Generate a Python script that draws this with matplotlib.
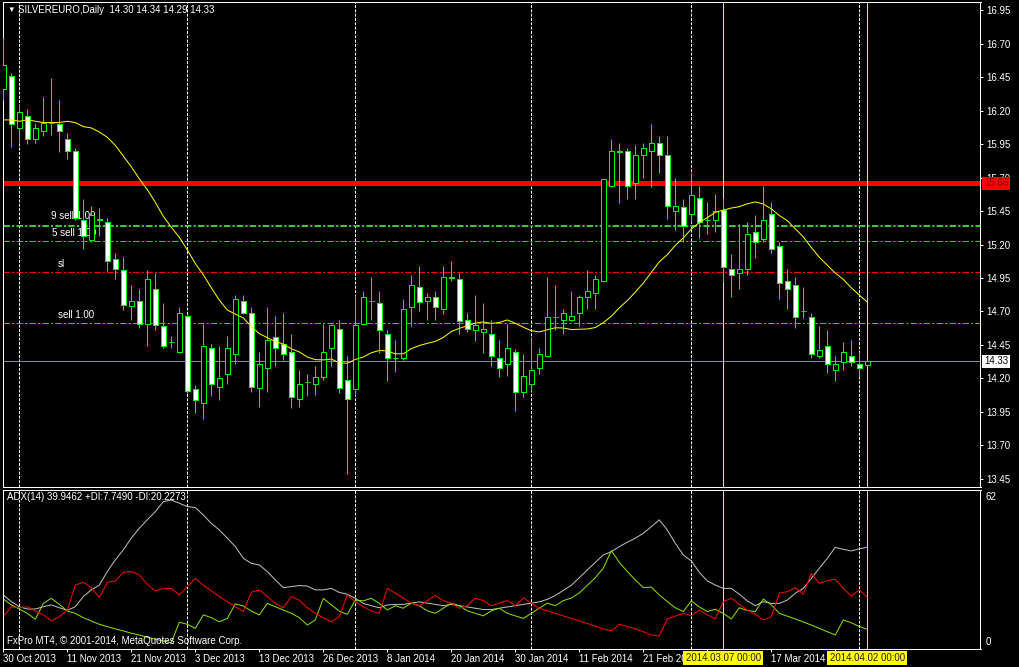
import numpy as np
import matplotlib.pyplot as plt

# ---- data (SILVEREURO daily) ----
opens = [16.36, 16.46, 16.07, 16.16, 15.99, 16.05, 16.11, 16.10, 15.99, 15.90,
         15.38, 15.23, 15.39, 15.37, 15.09, 15.01, 14.74, 14.78, 14.61, 14.87,
         14.59, 14.47, 14.40, 14.67, 14.12, 14.02, 14.43, 14.14, 14.23, 14.38,
         14.78, 14.69, 14.13, 14.28, 14.51, 14.46, 14.40, 14.05, 14.17, 14.16,
         14.21, 14.43, 14.57, 14.19, 14.12, 14.61, 14.78, 14.76, 14.53, 14.35,
         14.35, 14.73, 14.88, 14.78, 14.81, 14.72, 14.96, 14.94, 14.64, 14.56,
         14.55, 14.53, 14.35, 14.31, 14.40, 14.10, 14.16, 14.28, 14.37, 14.66,
         14.64, 14.64, 14.69, 14.81, 14.84, 14.93, 15.64, 15.89, 15.90, 15.66,
         15.87, 15.90, 15.96, 15.87, 15.45, 15.48, 15.43, 15.55, 15.38, 15.38,
         15.46, 15.02, 14.99, 15.02, 15.29, 15.24, 15.43, 15.19, 14.93, 14.90,
         14.70, 14.66, 14.37, 14.44, 14.26, 14.32, 14.37, 14.31, 14.30]
highs = [16.74, 16.48, 16.25, 16.21, 16.11, 16.30, 16.44, 16.28, 16.03, 15.92,
         15.54, 15.49, 15.47, 15.40, 15.14, 15.11, 14.90, 14.87, 15.01, 14.99,
         14.76, 14.52, 14.73, 14.68, 14.15, 14.61, 14.46, 14.44, 14.52, 14.82,
         14.82, 14.73, 14.40, 14.73, 14.67, 14.69, 14.53, 14.26, 14.23, 14.29,
         14.61, 14.61, 14.64, 14.37, 14.82, 14.85, 14.96, 14.85, 14.56, 14.49,
         14.79, 14.97, 15.04, 14.84, 14.85, 15.04, 15.08, 14.99, 14.69, 14.82,
         14.76, 14.64, 14.49, 14.61, 14.42, 14.38, 14.50, 14.43, 14.96, 14.90,
         14.72, 14.85, 14.82, 15.01, 14.97, 15.69, 15.99, 15.96, 15.92, 15.94,
         15.96, 16.10, 16.01, 16.01, 15.70, 15.54, 15.73, 15.64, 15.52, 15.58,
         15.55, 15.13, 15.35, 15.37, 15.42, 15.64, 15.52, 15.22, 15.02, 14.96,
         14.88, 14.69, 14.59, 14.56, 14.37, 14.47, 14.49, 14.40, 14.34]
lows = [16.28, 15.93, 15.96, 15.95, 15.96, 16.01, 16.02, 15.89, 15.84, 15.38,
        15.17, 15.22, 15.26, 15.00, 14.94, 14.71, 14.64, 14.58, 14.44, 14.56,
        14.43, 14.43, 14.39, 14.09, 13.94, 13.90, 14.07, 14.04, 14.16, 14.31,
        14.68, 14.10, 13.99, 14.10, 14.29, 14.34, 13.98, 13.99, 14.07, 14.08,
        14.19, 14.29, 14.09, 13.49, 14.08, 14.60, 14.64, 14.39, 14.18, 14.25,
        14.34, 14.59, 14.70, 14.64, 14.64, 14.68, 14.93, 14.53, 14.55, 14.48,
        14.39, 14.29, 14.21, 14.22, 13.96, 14.06, 14.11, 14.23, 14.36, 14.56,
        14.53, 14.63, 14.59, 14.72, 14.72, 14.92, 15.63, 15.51, 15.54, 15.54,
        15.70, 15.63, 15.73, 15.39, 15.31, 15.22, 15.37, 15.25, 15.28, 15.29,
        14.92, 14.81, 14.87, 14.97, 15.10, 15.22, 15.14, 14.79, 14.72, 14.58,
        14.65, 14.35, 14.35, 14.24, 14.18, 14.26, 14.29, 14.21, 14.29]
closes = [16.54, 16.10, 16.19, 15.99, 16.07, 16.11, 16.11, 16.05, 15.90, 15.40,
          15.26, 15.42, 15.38, 15.08, 15.02, 14.75, 14.78, 14.61, 14.94, 14.60,
          14.44, 14.47, 14.69, 14.11, 14.04, 14.44, 14.16, 14.20, 14.43, 14.79,
          14.69, 14.14, 14.31, 14.49, 14.43, 14.38, 14.06, 14.16, 14.17, 14.21,
          14.40, 14.60, 14.13, 14.05, 14.60, 14.81, 14.78, 14.56, 14.35, 14.35,
          14.72, 14.90, 14.77, 14.81, 14.73, 14.96, 14.95, 14.63, 14.57, 14.60,
          14.57, 14.37, 14.28, 14.43, 14.10, 14.22, 14.26, 14.38, 14.66, 14.66,
          14.69, 14.67, 14.81, 14.85, 14.94, 15.69, 15.90, 15.90, 15.64, 15.87,
          15.92, 15.96, 15.87, 15.49, 15.49, 15.34, 15.57, 15.37, 15.38, 15.45,
          15.03, 14.97, 15.02, 15.28, 15.22, 15.38, 15.17, 14.91, 14.87, 14.66,
          14.70, 14.38, 14.41, 14.31, 14.31, 14.40, 14.32, 14.28, 14.33]

# 20-bar moving average: first bars (history before the window)
ma_head = [16.13, 16.13, 16.12, 16.13, 16.12, 16.11, 16.11, 16.11, 16.12, 16.11,
           16.08, 16.07, 16.04, 16.00, 15.94, 15.86, 15.78, 15.69, 15.61]
ma_period = 20

adx = [21.2, 18.6, 16.6, 15.7, 15.7, 16.6, 17.3, 16.2, 15.2, 16.6,
       20.6, 23.2, 25.1, 30.4, 35.0, 38.9, 43.5, 47.4, 50.7, 53.9,
       57.8, 58.5, 57.2, 55.9, 55.5, 52.6, 49.3, 46.7, 43.5, 40.2,
       35.6, 33.6, 33.0, 30.4, 27.1, 24.1, 24.5, 24.9, 24.7, 23.2,
       23.2, 23.8, 22.2, 21.5, 19.9, 17.9, 17.0, 16.2, 17.3, 17.5,
       17.5, 18.0, 18.5, 18.0, 17.5, 17.0, 17.5, 17.0, 16.5, 16.0,
       15.5, 15.5, 16.0, 16.5, 17.0, 17.5, 18.0, 18.5, 19.5, 21.0,
       23.0, 25.0, 28.0, 31.0, 34.0, 36.9, 38.2, 40.2, 41.9, 43.5,
       45.4, 48.0, 50.7, 46.7, 41.5, 36.9, 34.6, 30.1, 26.7, 25.1,
       23.8, 23.8, 21.5, 18.9, 17.0, 18.6, 17.9, 17.9, 19.2, 21.9,
       23.8, 27.7, 31.7, 35.6, 39.9, 39.1, 38.5, 39.3, 39.95]
plus_di = [19.6, 17.3, 15.7, 14.0, 11.7, 17.9, 19.9, 17.5, 14.9, 14.0,
           12.3, 11.0, 9.7, 8.8, 7.9, 7.1, 6.2, 5.5, 4.6, 3.9,
           3.1, 2.5, 10.5, 9.7, 8.1, 13.4, 12.3, 10.7, 12.0, 17.7,
           16.9, 14.9, 13.4, 17.9, 16.6, 15.3, 14.0, 12.3, 9.4, 11.4,
           19.9, 17.3, 14.9, 13.6, 19.2, 18.9, 19.9, 17.9, 15.3, 17.0,
           16.0, 18.0, 17.0, 15.0, 14.0, 16.0, 18.0, 17.0, 15.0, 14.0,
           13.0, 15.0, 16.0, 14.0, 13.0, 12.0, 14.0, 16.0, 18.0, 17.0,
           19.0, 20.0, 22.0, 25.0, 28.0, 31.7, 38.6, 34.0, 30.4, 27.1,
           24.1, 24.3, 21.2, 18.6, 16.2, 14.7, 18.9, 16.5, 14.7, 15.6,
           14.0, 11.8, 16.2, 15.1, 14.7, 19.6, 17.3, 14.0, 12.9, 11.8,
           10.6, 9.4, 8.1, 6.8, 5.5, 11.4, 10.3, 8.8, 7.75]
minus_di = [12.7, 16.6, 16.2, 16.6, 14.9, 13.4, 11.0, 12.7, 15.3, 25.1,
            26.2, 24.1, 20.2, 26.2, 26.7, 30.1, 30.4, 29.1, 25.4, 22.8,
            23.8, 23.8, 21.2, 24.5, 27.7, 25.1, 22.8, 20.6, 18.6, 16.6,
            14.7, 22.3, 23.2, 20.6, 17.9, 16.2, 20.6, 19.2, 16.2, 14.0,
            12.3, 10.7, 12.7, 21.2, 18.6, 16.6, 14.9, 14.0, 23.8, 21.9,
            20.0, 18.0, 17.0, 19.0, 21.0, 19.0, 18.0, 16.0, 17.0, 20.0,
            19.0, 17.0, 18.0, 19.0, 17.0, 20.0, 18.0, 16.0, 15.0, 14.0,
            13.0, 12.0, 11.0, 10.0, 9.0, 7.9, 7.1, 9.7, 8.8, 7.9,
            6.8, 5.5, 5.1, 11.8, 12.9, 14.0, 13.1, 15.3, 13.4, 11.8,
            18.6, 19.9, 17.5, 15.3, 13.6, 11.4, 12.7, 21.9, 22.5, 24.1,
            21.5, 29.7, 25.8, 26.8, 27.4, 23.8, 20.8, 23.2, 20.23]

price_ticks = [13.45, 13.70, 13.95, 14.20, 14.45, 14.70, 14.95, 15.20,
               15.45, 15.70, 15.95, 16.20, 16.45, 16.70, 16.95]
date_bars = [0, 8, 16, 24, 32, 40, 48, 56, 64, 72, 80, 88, 96, 104]
# labels under the yellow vertical-line tags are hidden in the terminal
date_labels = ['30 Oct 2013', '11 Nov 2013', '21 Nov 2013', '3 Dec 2013',
               '13 Dec 2013', '26 Dec 2013', '8 Jan 2014', '20 Jan 2014',
               '30 Jan 2014', '11 Feb 2014', '21 Feb 2014', '',
               '17 Mar 2014', '']
month_bars = [2, 23, 44, 66, 86, 107]
vline_bars = [90, 108]
vline_labels = ['2014.03.07 00:00', '2014.04.02 00:00']

stop_level = 15.66
bid = 14.33
order_levels = [15.348, 15.336, 15.224, 14.612]
order_labels = ['9 sell 1.00', '', '5 sell 1.00', 'sell 1.00']
sl_level = 14.993

# ---- figure in screen pixels ----
W, H = 1020, 667
PT = 0.72  # one pixel in points
fig = plt.figure(figsize=(W / 100, H / 100), dpi=100, facecolor='black')
plt.rcParams['font.family'] = ['Liberation Sans', 'DejaVu Sans']


def px_axes(x0, y0, x1, y1):
    return fig.add_axes([x0 / W, 1 - y1 / H, (x1 - x0) / W, (y1 - y0) / H],
                        facecolor='black')


def px_text(x, y, s, **kw):
    return fig.text(x / W, 1 - y / H, s, **kw)


ax = px_axes(3, 2, 980.5, 487)
ax2 = px_axes(3, 489.5, 980.5, 648.5)
xlim = (-0.04, 122.15)
for a in (ax, ax2):
    a.set_xlim(*xlim)
    for s in a.spines.values():
        s.set_color('white')
        s.set_linewidth(PT)
ax.set_ylim(13.39, 17.01)
ax2.set_ylim(0.2, 62.6)

x = np.arange(len(closes))
o = np.array(opens)
h = np.array(highs)
l = np.array(lows)
c = np.array(closes)

# separators and vertical lines
for k in month_bars:
    for a in (ax, ax2):
        a.axvline(k, color='white', lw=PT, dashes=(4 * PT, 2 * PT), zorder=1)
for k in vline_bars:
    for a in (ax, ax2):
        a.axvline(k, color='#ffff00', lw=PT, zorder=1.5)

# horizontal order lines
dd = (9 * PT, 3 * PT, 3 * PT, 3 * PT)
for lev in order_levels:
    ax.axhline(lev, color='#32cd32', lw=PT, dashes=dd, zorder=1)
ax.axhline(sl_level, color='#ff0000', lw=PT, dashes=dd, zorder=1)
ax.axhline(stop_level, color='#ff0000', lw=5 * PT, zorder=1.2)
ax.axhline(bid, color='#8090a0', lw=PT, zorder=1.2)
label_x = [6.0, 6.0, 6.1, 6.8]
for lev, txt, lx in zip(order_levels, order_labels, label_x):
    if txt:
        ax.text(lx, lev + 0.025, txt, color='white', fontsize=7, va='bottom', zorder=1.3)
ax.text(6.8, sl_level + 0.025, 'sl', color='white', fontsize=7, va='bottom', zorder=1.3)

# candles
ax.vlines(x, l, h, color='#00ff00', lw=PT, zorder=3)
body_lo = np.minimum(o, c)
body_h = np.maximum(np.abs(c - o), 0.0005)
body_col = np.where(c < o, 'white', 'black')
ax.bar(x, body_h, bottom=body_lo, width=0.55, color=body_col,
       edgecolor='#00ff00', linewidth=PT, zorder=4)

# moving average
ma = list(ma_head)
for i in range(len(ma_head), len(closes)):
    ma.append(np.mean(closes[i - ma_period + 1:i + 1]))
ax.plot(x, ma, color='#ffff00', lw=PT, zorder=5)

# price axis
ax.set_xticks([])
ax.yaxis.tick_right()
ax.set_yticks(price_ticks)
ax.set_yticklabels(['%.2f' % p for p in price_ticks])
ax.tick_params(axis='y', colors='white', labelsize=7, length=3 * PT, width=PT, pad=2)

# ADX panel
ax2.plot(x, adx, color='#c0c0c0', lw=PT)
ax2.plot(x, plus_di, color='#8ee000', lw=PT)
ax2.plot(x, minus_di, color='#ff0000', lw=PT)
ax2.set_yticks([])
ax2.set_xticks(date_bars)
ax2.set_xticklabels(date_labels, ha='left')
ax2.tick_params(axis='x', colors='white', labelsize=7, length=3 * PT, width=PT, pad=2)

# texts
px_text(7, 10, '\u25bc', color='white', fontsize=5.5, va='center')
px_text(18, 10, 'SILVEREURO,Daily  14.30 14.34 14.29 14.33', color='white',
        fontsize=7, va='center')
px_text(7, 497, 'ADX(14) 39.9462 +DI:7.7490 -DI:20.2273', color='white',
        fontsize=7, va='center')
px_text(7, 641, 'FxPro MT4, \u00a9 2001-2014, MetaQuotes Software Corp.',
        color='white', fontsize=7, va='center')
px_text(986, 497, '62', color='white', fontsize=7, va='center')
px_text(986, 642, '0', color='white', fontsize=7, va='center')
px_text(984, 183.5, '%.2f' % stop_level, color='#700000', fontsize=7, va='center',
        bbox=dict(boxstyle='square,pad=0.2', fc='#ff0000', ec='none'))
px_text(984, 361.5, '%.2f' % bid, color='black', fontsize=7, va='center',
        bbox=dict(boxstyle='square,pad=0.2', fc='white', ec='none'))
for k, txt in zip(vline_bars, vline_labels):
    px_text(3.3 + 8 * k, 658, txt, color='#202000', fontsize=7, va='center', ha='center',
            bbox=dict(boxstyle='square,pad=0.25', fc='#ffff00', ec='none'))

fig.savefig('out.png', dpi=100, facecolor='black')
